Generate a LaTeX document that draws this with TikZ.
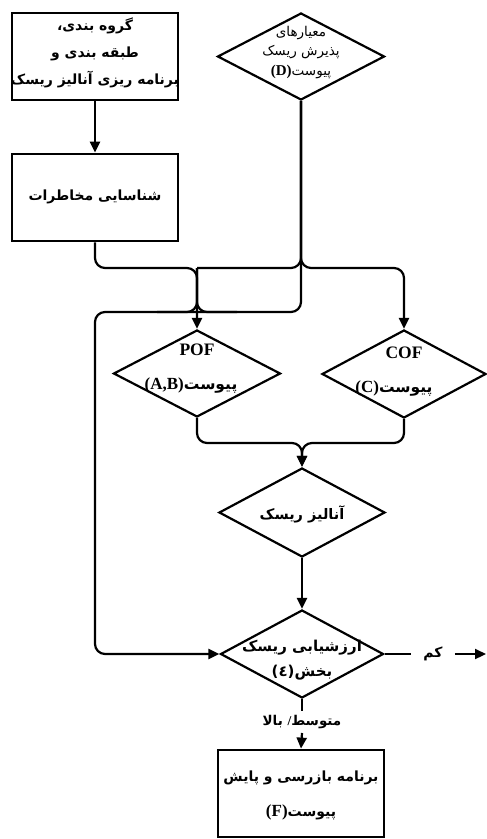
\documentclass[tikz,border=0pt]{standalone}
\usepackage{fontspec}
\usetikzlibrary{shapes.geometric,arrows.meta}
\TeXXeTstate=1
\newfontfamily\fa[Script=Arabic]{DejaVu Sans}
\newfontfamily\latf{Liberation Serif}
\newcommand\rtlx[1]{\beginR #1\endR}
\newcommand\ltrx[1]{\beginL{#1}\endL}
\tikzset{
  conn/.style={line width=2.2pt, rounded corners=10pt},
  arr/.style={conn, -{Triangle[length=11pt,width=10pt]}},
  box/.style={draw, line width=2.8pt, minimum width=166pt, minimum height=87pt, inner sep=0pt},
  dia/.style={draw, diamond, line width=2.2pt, inner sep=0pt},
  txt/.style={inner sep=0pt, align=center, font=\fa\bfseries\fontsize{14}{17}\selectfont},
  lat/.style={inner sep=0pt, font=\latf\bfseries\fontsize{17.5}{20}\selectfont},
}
\begin{document}
\begin{tikzpicture}[x=1pt,y=-1pt]
\useasboundingbox (0,0) rectangle (487,839);
% shapes
\node[box] (b1) at (95,56.5) {};
\node[box] (b2) at (95,197.5) {};
\node[dia, minimum width=167pt, minimum height=87pt] (d) at (301,56.5) {};
\node[dia, minimum width=167pt, minimum height=87pt] (pof) at (197,373.5) {};
\node[dia, minimum width=164pt, minimum height=88pt] (cof) at (404,374) {};
\node[dia, minimum width=166pt, minimum height=89pt] (ra) at (302,512.5) {};
\node[dia, minimum width=163pt, minimum height=88pt] (ev) at (302,654) {};
\node[box] (f) at (301,793.5) {};
% texts
\node[txt, font=\fa\bfseries\fontsize{14}{27}\selectfont] (t1) at (95,52.5)
  {\rtlx{گروه بندی،}\\ \rtlx{طبقه بندی و}\\ \rtlx{برنامه ریزی آنالیز ریسک}};
\node[txt] (t2) at (95,197) {\rtlx{شناسایی مخاطرات}};
\node[txt, font=\fa\fontsize{13.5}{19.5}\selectfont] (td) at (301,52.5)
  {\rtlx{معیارهای}\\ \rtlx{پذیرش ریسک}\\ \rtlx{پیوست\ltrx{\latf\bfseries\fontsize{15}{17}\selectfont(D)}}};
\node[lat] (tpof) at (197,350) {POF};
\node[txt, font=\fa\bfseries\fontsize{15.5}{18}\selectfont] (tpof2) at (191,385) {\rtlx{پیوست\ltrx{\latf\bfseries\fontsize{17}{19}\selectfont(A,B)}}};
\node[lat] (tcof) at (404,353) {COF};
\node[txt, font=\fa\bfseries\fontsize{15.5}{18}\selectfont] (tcof2) at (394,388) {\rtlx{پیوست\ltrx{\latf\bfseries\fontsize{17}{19}\selectfont(C)}}};
\node[txt, font=\fa\bfseries\fontsize{14.5}{17}\selectfont] (tra) at (302,514) {\rtlx{آنالیز ریسک}};
\node[txt, font=\fa\bfseries\fontsize{15}{25}\selectfont] (tev) at (302,660.5)
  {\rtlx{ارزشیابی ریسک}\\ \rtlx{بخش\ltrx{(٤)}}};
\node[txt, inner xsep=12pt, inner ysep=6pt] (kam) at (433,654) {\rtlx{کم}};
\node[txt, inner ysep=4pt, font=\fa\bfseries\fontsize{13.5}{16}\selectfont] (mid) at (302,722) {\rtlx{متوسط{\latf\bfseries/} بالا}};
\node[txt, font=\fa\bfseries\fontsize{14}{35}\selectfont] (tf) at (301,795.5)
  {\rtlx{برنامه بازرسی و پایش}\\ \rtlx{پیوست\ltrx{\latf\bfseries\fontsize{17}{19}\selectfont(F)}}};
% junction coordinates
\coordinate (h1) at (95,268);
\coordinate (h2) at (197,268);
\coordinate (h3) at (301,268);
\coordinate (h4) at (404,268);
\coordinate (g1) at (95,312);
\coordinate (g2) at (197,312);
\coordinate (g3) at (301,312);
\coordinate (m) at (302,443);
\coordinate (out) at (486,654);
% connectors
\draw[arr] (b1.south) -- (b2.north);
\draw[arr] (b2.south) -- (h1) -- (h2) -- (pof.north);
\draw[arr] (d.south) -- (h3) -- (h4) -- (cof.north);
\draw[conn] (d.south) -- (h3) -- (h2);
\draw[arr] (d.south) -- (g3) -- (g1) -- (g1 |- ev.west) -- (ev.west);
\draw[conn] (h2) -- (g2) -- ++(-40,0);
\draw[conn] (h2) -- (g2) -- ++(40,0);
\draw[arr] (pof.south) -- (pof.south |- m) -- (m) -- (ra.north);
\draw[arr] (cof.south) -- (cof.south |- m) -- (m) -- (ra.north);
\draw[arr] (ra.south) -- (ev.north);
\draw[conn] (ev.east) -- (kam.west);
\draw[arr] (kam.east) -- (out);
\draw[conn] (ev.south) -- (mid.north);
\draw[arr] (mid.south) -- (f.north);
\end{tikzpicture}
\end{document}
